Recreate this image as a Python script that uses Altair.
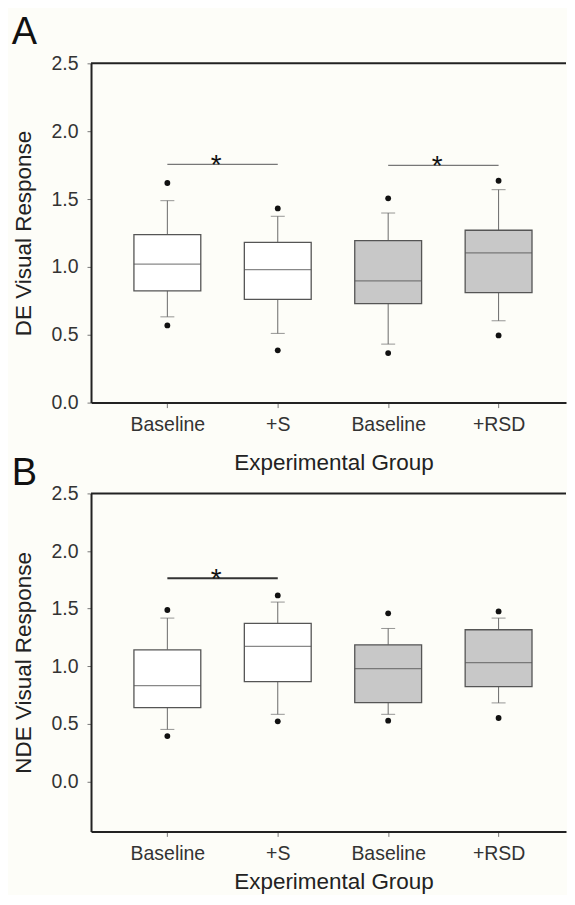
import altair as alt
import pandas as pd

# Categories (internal keys are unique; label shows text before '|')
groups = ["Baseline|S", "+S", "Baseline|RSD", "+RSD"]
fills = ["white", "white", "#c8c8c8", "#c8c8c8"]
panel_letters = ["A", "B"]
y_titles = ["DE Visual Response", "NDE Visual Response"]
x_title = "Experimental Group"
y_ticks = [0.0, 0.5, 1.0, 1.5, 2.0, 2.5]

# Panel A (DE)
a_q1 = [0.824, 0.760, 0.730, 0.811]
a_med = [1.020, 0.980, 0.897, 1.103]
a_q3 = [1.238, 1.181, 1.194, 1.270]
a_wlo = [0.632, 0.510, 0.431, 0.603]
a_whi = [1.488, 1.373, 1.397, 1.569]
a_out_lo = [0.569, 0.385, 0.365, 0.495]
a_out_hi = [1.618, 1.431, 1.505, 1.635]
a_sig_from = ["Baseline|S", "Baseline|RSD"]
a_sig_to = ["+S", "+RSD"]
a_sig_y = [1.755, 1.748]

# Panel B (NDE)
b_q1 = [0.641, 0.867, 0.684, 0.824]
b_med = [0.832, 1.172, 0.980, 1.032]
b_q3 = [1.143, 1.372, 1.186, 1.317]
b_wlo = [0.452, 0.583, 0.583, 0.682]
b_whi = [1.418, 1.557, 1.328, 1.418]
b_out_lo = [0.394, 0.522, 0.528, 0.551]
b_out_hi = [1.488, 1.615, 1.459, 1.476]
b_sig_from = ["Baseline|S"]
b_sig_to = ["+S"]
b_sig_y = [1.763]

W = 476
FONT = "Liberation Sans"


def panel(letter, ytitle, q1, med, q3, wlo, whi, olo, ohi, sfrom, sto, sy,
          domain, height, sig_color, sig_width, letter_y, xtitle_pad):
    df = pd.DataFrame({"g": groups, "fill": fills, "q1": q1, "med": med,
                       "q3": q3, "wlo": wlo, "whi": whi, "olo": olo, "ohi": ohi})
    sdf = pd.DataFrame({"x1": sfrom, "x2": sto, "yv": sy,
                        "star": ["*"] * len(sy)})
    ldf = pd.DataFrame({"letter": [letter]})

    xscale = alt.Scale(type="point", domain=groups, padding=0.651, align=0.531)
    xaxis = alt.Axis(title=x_title, labelExpr="split(datum.label, '|')[0]",
                     labelAngle=0, tickSize=5, labelPadding=8,
                     titlePadding=xtitle_pad, titleX=243)
    yscale = alt.Scale(domain=domain, nice=False, zero=False)
    yaxis = alt.Axis(values=y_ticks, format=".1f", tickSize=4,
                     labelPadding=9, titlePadding=16)

    def X(f="g"):
        return alt.X(f + ":N", scale=xscale, axis=xaxis, title=x_title)

    def Y(f):
        return alt.Y(f + ":Q", scale=yscale, axis=yaxis, title=ytitle)

    base = alt.Chart(df)
    w_lo = base.mark_rule(color="#6a6a6a", strokeWidth=1).encode(
        x=X(), y=Y("wlo"), y2="q1:Q")
    w_hi = base.mark_rule(color="#6a6a6a", strokeWidth=1).encode(
        x=X(), y=Y("q3"), y2="whi:Q")
    cap_lo = base.mark_tick(size=14, thickness=1, color="#6a6a6a").encode(
        x=X(), y=Y("wlo"))
    cap_hi = base.mark_tick(size=14, thickness=1, color="#6a6a6a").encode(
        x=X(), y=Y("whi"))
    box = base.mark_bar(size=67, stroke="#555555", strokeWidth=1.3).encode(
        x=X(), y=Y("q1"), y2="q3:Q",
        fill=alt.Fill("fill:N", scale=None))
    median = base.mark_tick(size=67, thickness=1.3, color="#555555").encode(
        x=X(), y=Y("med"))
    o_lo = base.mark_circle(size=34, color="#111111", opacity=1).encode(
        x=X(), y=Y("olo"))
    o_hi = base.mark_circle(size=34, color="#111111", opacity=1).encode(
        x=X(), y=Y("ohi"))

    sbase = alt.Chart(sdf)
    sig = sbase.mark_rule(color=sig_color, strokeWidth=sig_width).encode(
        x=X("x1"), x2="x2:N", y=Y("yv"))
    star = sbase.mark_text(fontSize=28, font=FONT, color="#111111",
                           align="center", baseline="alphabetic",
                           dx=49, dy=10).encode(
        x=X("x1"), y=Y("yv"), text="star:N")

    top = alt.Chart(ldf).mark_rule(color="#222222", strokeWidth=2).encode(
        x=alt.value(0), x2=alt.value(W), y=alt.value(0))
    lab = alt.Chart(ldf).mark_text(fontSize=38, font=FONT, color="#111111",
                                   align="left", baseline="alphabetic").encode(
        x=alt.value(-79.5), y=alt.value(letter_y), text="letter:N")

    return alt.layer(w_lo, w_hi, cap_lo, cap_hi, box, median, o_lo, o_hi,
                     sig, star, top, lab).properties(width=W, height=height)


pA = panel(panel_letters[0], y_titles[0], a_q1, a_med, a_q3, a_wlo, a_whi,
           a_out_lo, a_out_hi, a_sig_from, a_sig_to, a_sig_y,
           [0, 2.5], 340, "#777777", 1.2, -19.5, 18)
pB = panel(panel_letters[1], y_titles[1], b_q1, b_med, b_q3, b_wlo, b_whi,
           b_out_lo, b_out_hi, b_sig_from, b_sig_to, b_sig_y,
           [-0.433, 2.5], 338.7, "#333333", 2, -8, 8)

chart = alt.vconcat(pA, pB, spacing=91, bounds="flush").properties(
    padding={"left": 3.2, "top": 4.5, "right": 0, "bottom": 0},
    background="#fdfdf8",
).configure_view(stroke=None).configure_axis(
    grid=False, domainColor="#222222", domainWidth=2,
    tickColor="#777777", tickWidth=1,
    labelFont=FONT, labelFontSize=19.5, labelColor="#333333",
    titleFont=FONT, titleFontSize=22.5, titleFontWeight="normal",
    titleColor="#222222",
)

chart.save("out.html", embed_options={"renderer": "svg", "actions": False})
